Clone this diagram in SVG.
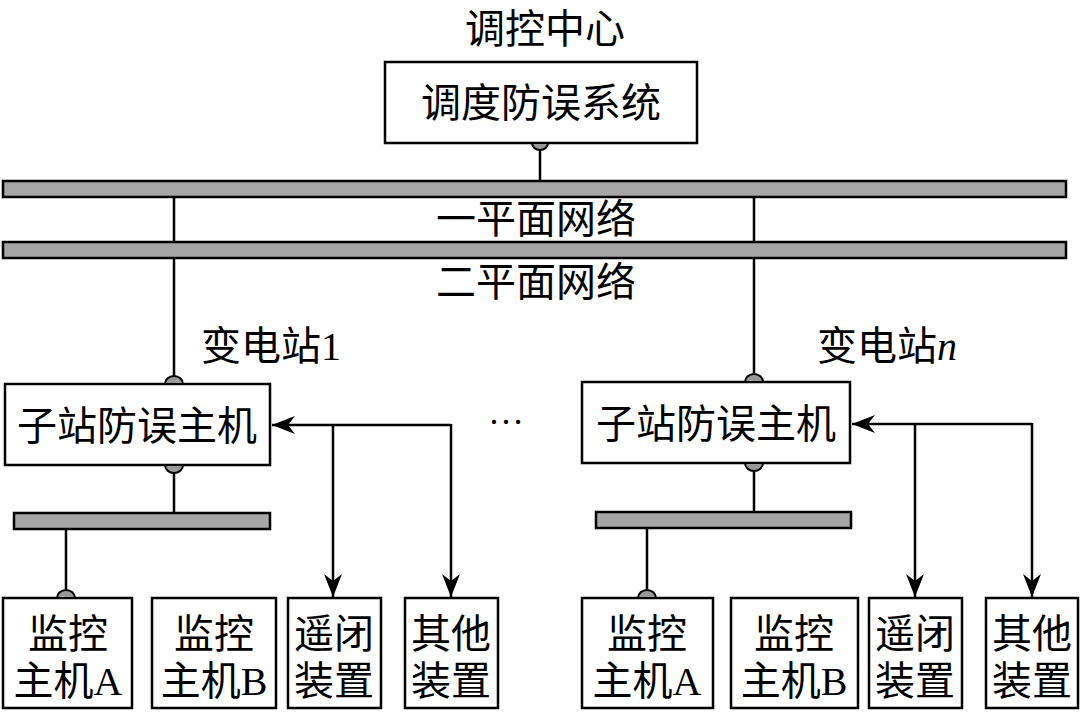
<svg xmlns="http://www.w3.org/2000/svg" width="1080" height="714" viewBox="0 0 1080 714">
<style>
text{font-family:"Liberation Serif","Noto Sans CJK SC",serif;font-size:40px;fill:#000;text-anchor:middle}
.box{fill:#fff;stroke:#000;stroke-width:2.5}
.bus{fill:#a6a6a6;stroke:#000;stroke-width:2.5}
.ln{fill:none;stroke:#000;stroke-width:2.5}
.arr{fill:none;stroke:#000;stroke-width:2.5;marker-end:url(#ah)}
.port{fill:#999;stroke:#000;stroke-width:2}
</style>
<defs>
<marker id="ah" viewBox="-24 -10 26 20" refX="0" refY="0" markerWidth="26" markerHeight="20" markerUnits="userSpaceOnUse" orient="auto">
<path d="M0,0 L-23,-9 L-16,0 L-23,9 Z" fill="#000"/>
</marker>
</defs>
<rect width="1080" height="714" fill="#fff"/>

<g id="buses">
<rect class="bus" x="3" y="181" width="1063" height="16"/>
<rect class="bus" x="3" y="242" width="1063" height="16"/>
<rect class="bus" x="14" y="513" width="256" height="16"/>
<rect class="bus" x="596" y="512" width="255" height="16"/>
</g>

<g id="connectors">
<path class="ln" d="M540,146 V181"/>
<path class="ln" d="M174,197 V242 M174,258 V384"/>
<path class="ln" d="M754,197 V242 M754,258 V382"/>
<path class="ln" d="M174,465 V513"/>
<path class="ln" d="M754,463 V512"/>
<path class="ln" d="M66,529 V598"/>
<path class="ln" d="M647,528 V598"/>
<path class="arr" d="M451,425 H272"/>
<path class="arr" d="M333,425 V597"/>
<path class="arr" d="M451,424 V597"/>
<path class="arr" d="M1032,424 H852"/>
<path class="arr" d="M915,424 V597"/>
<path class="arr" d="M1032,423 V597"/>
</g>

<g id="labels">
<text x="545" y="43">调控中心</text>
<text x="536" y="233">一平面网络</text>
<text x="536" y="296">二平面网络</text>
<text x="201" y="360" style="text-anchor:start">变电站1</text>
<text x="817" y="360" style="text-anchor:start">变电站<tspan font-style="italic">n</tspan></text>
<text x="506" y="424" style="font-size:36px">…</text>
</g>

<g id="dispatch">
<rect class="box" x="385" y="62" width="312" height="81"/>
<text x="541" y="117">调度防误系统</text>
<path class="port" d="M532,143 A8,7 0 0 0 548,143 Z"/>
</g>

<g id="sub1-host">
<rect class="box" x="5" y="384" width="265" height="81"/>
<text x="137" y="440">子站防误主机</text>
<path class="port" d="M165,384 A9,8 0 0 1 183,384 Z"/>
<path class="port" d="M165,465 A9,8 0 0 0 183,465 Z"/>
</g>
<g id="sub1-monA">
<rect class="box" x="3" y="598" width="129" height="110"/>
<text x="68" y="648">监控</text>
<text x="68" y="695">主机A</text>
<path class="port" d="M57,598 A9,8 0 0 1 75,598 Z"/>
</g>
<g id="sub1-monB">
<rect class="box" x="152" y="598" width="124" height="110"/>
<text x="214" y="648">监控</text>
<text x="214" y="695">主机B</text>
</g>
<g id="sub1-remote">
<rect class="box" x="288" y="598" width="93" height="110"/>
<text x="334" y="648">遥闭</text>
<text x="334" y="695">装置</text>
</g>
<g id="sub1-other">
<rect class="box" x="405" y="598" width="93" height="110"/>
<text x="451" y="648">其他</text>
<text x="451" y="695">装置</text>
</g>

<g id="subn-host">
<rect class="box" x="582" y="382" width="268" height="81"/>
<text x="716" y="438">子站防误主机</text>
<path class="port" d="M745,382 A9,8 0 0 1 763,382 Z"/>
<path class="port" d="M745,463 A9,8 0 0 0 763,463 Z"/>
</g>
<g id="subn-monA">
<rect class="box" x="582" y="598" width="131" height="110"/>
<text x="647" y="648">监控</text>
<text x="647" y="695">主机A</text>
<path class="port" d="M638,598 A9,8 0 0 1 656,598 Z"/>
</g>
<g id="subn-monB">
<rect class="box" x="731" y="598" width="127" height="110"/>
<text x="794" y="648">监控</text>
<text x="794" y="695">主机B</text>
</g>
<g id="subn-remote">
<rect class="box" x="869" y="598" width="93" height="110"/>
<text x="915" y="648">遥闭</text>
<text x="915" y="695">装置</text>
</g>
<g id="subn-other">
<rect class="box" x="986" y="598" width="92" height="110"/>
<text x="1032" y="648">其他</text>
<text x="1032" y="695">装置</text>
</g>
</svg>
